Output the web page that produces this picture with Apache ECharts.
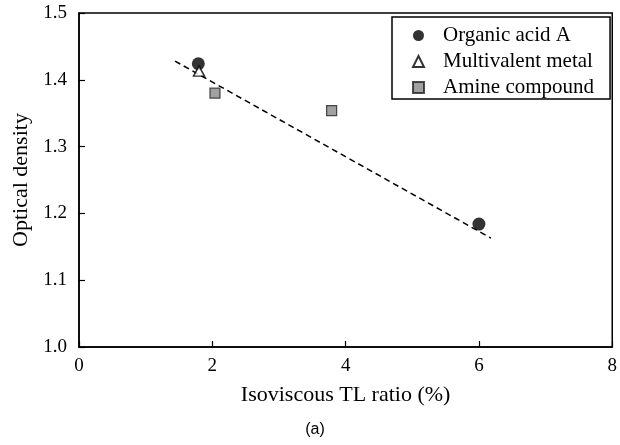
<!DOCTYPE html>
<html><head><meta charset="utf-8">
<script src="https://cdn.jsdelivr.net/npm/echarts@6/dist/echarts.min.js"></script>
<style>html,body{margin:0;padding:0;background:#fff}#c{width:620px;height:445px}</style>
</head><body><div id="c"></div>
<script>
const seriesNames = ["Organic acid A", "Multivalent metal", "Amine compound"];
const organicAcid = [[1.79, 1.424], [6.00, 1.184]];
const multivalentMetal = [[1.80, 1.413]];
const amineCompound = [[2.04, 1.380], [3.79, 1.354]];
const trendLine = [[1.44, 1.428], [6.18, 1.163]];
const xTicks = [0, 2, 4, 6, 8];
const yTicks = [1.0, 1.1, 1.2, 1.3, 1.4, 1.5];

const serif = "Liberation Serif";
const chart = echarts.init(document.getElementById('c'), null, {renderer: 'canvas'});
chart.setOption({
  animation: false,
  backgroundColor: '#fff',
  grid: {left: 79, right: 7, top: 13, bottom: 98, show: true, borderColor: '#000', borderWidth: 1.5, backgroundColor: 'transparent'},
  xAxis: {
    type: 'value', min: xTicks[0], max: xTicks[xTicks.length-1], interval: 2,
    name: 'Isoviscous TL ratio (%)', nameLocation: 'middle', nameGap: 37,
    nameTextStyle: {fontFamily: serif, fontSize: 22, color: '#000'},
    axisLine: {lineStyle: {color: '#000', width: 1.5}},
    axisTick: {inside: true, length: 6, lineStyle: {color: '#000', width: 1.2}},
    axisLabel: {fontFamily: serif, fontSize: 19, color: '#000', margin: 10},
    splitLine: {show: false}
  },
  yAxis: {
    type: 'value', min: yTicks[0], max: yTicks[yTicks.length-1], interval: 0.1,
    name: 'Optical density', nameLocation: 'middle', nameGap: 46,
    nameTextStyle: {fontFamily: serif, fontSize: 22, color: '#000'},
    axisLine: {lineStyle: {color: '#000', width: 1.5}},
    axisTick: {inside: true, length: 6, lineStyle: {color: '#000', width: 1.2}},
    axisLabel: {fontFamily: serif, fontSize: 19, color: '#000', margin: 12, formatter: v => v.toFixed(1)},
    splitLine: {show: false}
  },
  legend: {
    data: seriesNames, orient: 'vertical', left: 392, top: 17,
    backgroundColor: '#fff', borderColor: '#000', borderWidth: 1.5,
    padding: [8, 16, 1, 20], itemGap: 5, itemWidth: 11, itemHeight: 11,
    textStyle: {fontFamily: serif, fontSize: 21, lineHeight: 21, color: '#000', padding: [0, 0, 0, 14]}
  },
  graphic: [{
    type: 'text', x: 315, y: 430,
    style: {text: '(a)', fontFamily: 'Liberation Sans', fontSize: 16, fill: '#000', align: 'center', verticalAlign: 'middle'}
  }],
  series: [
    {name: 'fit', type: 'line', data: trendLine, symbol: 'none', silent: true,
     lineStyle: {color: '#000', width: 1.5, type: [6, 4]}, z: 1},
    {name: seriesNames[0], type: 'scatter', data: organicAcid, symbol: 'circle', symbolSize: 13,
     itemStyle: {color: '#000'}, z: 3},
    {name: seriesNames[1], type: 'scatter', data: multivalentMetal, symbol: 'triangle', symbolSize: [11, 10],
     itemStyle: {color: '#fff', borderColor: '#000', borderWidth: 1.5}, z: 4},
    {name: seriesNames[2], type: 'scatter', data: amineCompound, symbol: 'rect', symbolSize: 10,
     itemStyle: {color: '#8a8a8a', borderColor: '#222', borderWidth: 1.2}, z: 3}
  ]
});
</script></body></html>
